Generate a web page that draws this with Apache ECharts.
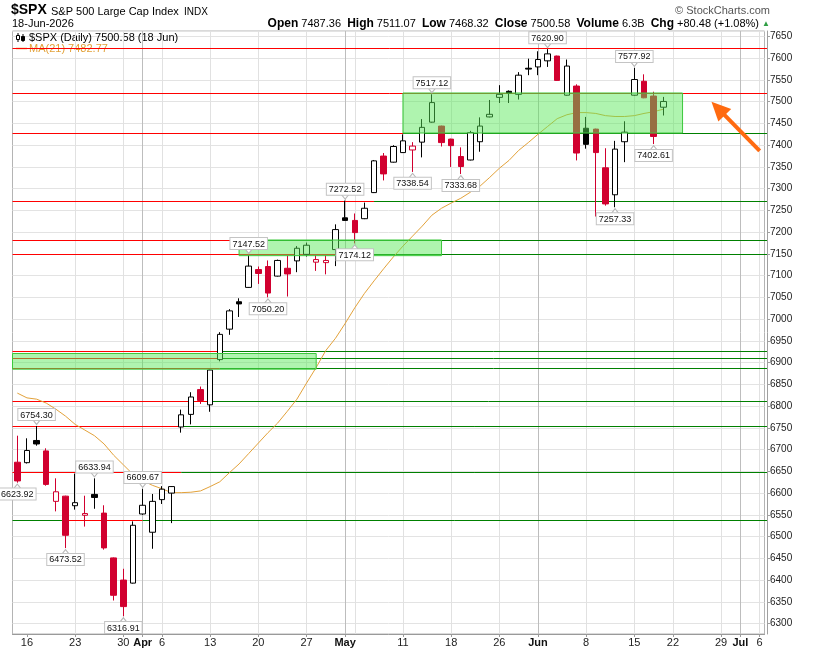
<!DOCTYPE html>
<html>
<head>
<meta charset="utf-8">
<script src="https://cdn.jsdelivr.net/npm/echarts@6.0.0/dist/echarts.min.js"></script>
<style>
html,body{margin:0;padding:0;background:#fff;}
#chart{width:813px;height:648px;}
</style>
</head>
<body>
<div id="chart"></div>
<script>
// ---------------- data ----------------
const dates = [
 '2026-03-13',
 '2026-03-16','2026-03-17','2026-03-18','2026-03-19','2026-03-20',
 '2026-03-23','2026-03-24','2026-03-25','2026-03-26','2026-03-27',
 '2026-03-30','2026-03-31','2026-04-01','2026-04-02',
 '2026-04-06','2026-04-07','2026-04-08','2026-04-09','2026-04-10',
 '2026-04-13','2026-04-14','2026-04-15','2026-04-16','2026-04-17',
 '2026-04-20','2026-04-21','2026-04-22','2026-04-23','2026-04-24',
 '2026-04-27','2026-04-28','2026-04-29','2026-04-30','2026-05-01',
 '2026-05-04','2026-05-05','2026-05-06','2026-05-07','2026-05-08',
 '2026-05-11','2026-05-12','2026-05-13','2026-05-14','2026-05-15',
 '2026-05-18','2026-05-19','2026-05-20','2026-05-21','2026-05-22',
 '2026-05-26','2026-05-27','2026-05-28','2026-05-29',
 '2026-06-01','2026-06-02','2026-06-03','2026-06-04','2026-06-05',
 '2026-06-08','2026-06-09','2026-06-10','2026-06-11','2026-06-12',
 '2026-06-15','2026-06-16','2026-06-17','2026-06-18',
 '2026-06-22','2026-06-23','2026-06-24','2026-06-25','2026-06-26',
 '2026-06-29','2026-06-30','2026-07-01','2026-07-02','2026-07-06'
];

const opens = [6671,6670,6721,6697,6581,6593,6571,6549,6597,6554,6451,6400,6393,6552,6510,6585,6600,6752,6781,6838,
 6803,6907,6977,7040,7073,7114,7121,7099,7117,7134,7149,7131,7130,7160,7233,7227,7231,7291,7375,7361,
 7383,7389,7407,7453,7444,7414,7374,7366,7408,7465,7510,7524,7517,7577,7580,7594,7605,7515,7536,7439,
 7437,7348,7286,7408,7515,7547,7513,7487.36];
const closes = [6628,6698,6713,6620,6603,6503,6578,6553,6590,6474,6365,6339,6526,6572,6581,6609,6615,6780,6821,6813,
 6883,6965,7019,7035,7122,7105,7060,7135,7104,7163,7170,7137,7135,7206,7227,7199,7255,7364,7334,7397,
 7410,7398,7441,7498,7406,7399,7351,7429,7444,7471,7517,7520,7561,7575,7597,7610,7549,7582,7382,7402,
 7383,7265,7391,7430,7551,7509,7420.10,7500.58];
const lows = [6623.92,6668,6709,6617,6558,6473.52,6562,6523,6564,6470,6353,6316.91,6392,6550,6472,6575,6531,6739,6758,6805,
 6787,6903,6964,7005,7072,7081,7050.20,7098,7052,7108,7144,7111,7103,7122,7226,7174.12,7230,7290,7319,7360,
 7382,7338.54,7372,7452,7397,7350,7333.68,7365,7385,7464,7497,7497,7505,7561,7561,7580,7548,7514,7365,7392,
 7236,7261,7257.33,7361,7514,7508,7402.61,7468.32];
const highs = [6732,6726,6754.30,6703,6634,6594,6645,6594,6633.94,6572,6452,6426,6535,6609.67,6598,6616,6616,6792,6832,6845,
 6884,6970,7023,7048,7147.52,7121,7135,7137,7147,7168,7176,7149,7147,7218,7272.52,7243,7268,7366,7382,7400,
 7425,7407,7460,7517.12,7445,7415,7395,7433,7464,7504,7538,7526,7568,7599,7616,7620.90,7606,7597,7540,7465,
 7438,7393,7410,7455,7577.92,7563,7523,7511.07];
const ma21 = [6830,6819,6816,6807,6793,6777,6758,6745,6732,6713,6687,6665,6643,6629,6618,6610,6601,6601,6602,6605,
 6615,6626,6647,6667,6691,6715,6739,6761,6788,6816,6853,6889,6928,6956,6990,7026,7059,7088,7116,7143,
 7168,7191,7214,7239,7255,7267,7278,7292,7306,7326,7347,7365,7388,7406,7425,7443,7461,7470,7475,7475,
 7473,7468,7466,7466,7468,7473,7477,7482.77];
const volumeText = '6.3B';

// x tick labels: [date, text, isMonth]
const xTicks = [
 ['2026-03-16','16',0],['2026-03-23','23',0],['2026-03-30','30',0],['2026-04-01','Apr',1],['2026-04-06','6',0],
 ['2026-04-13','13',0],['2026-04-20','20',0],['2026-04-27','27',0],['2026-05-01','May',1],['2026-05-11','11',0],
 ['2026-05-18','18',0],['2026-05-26','26',0],['2026-06-01','Jun',1],['2026-06-08','8',0],['2026-06-15','15',0],
 ['2026-06-22','22',0],['2026-06-29','29',0],['2026-07-01','Jul',1],['2026-07-06','6',0]
];
const gridDates = ['2026-03-23','2026-03-30','2026-04-01','2026-04-06','2026-04-13','2026-04-20','2026-04-27',
 '2026-05-01','2026-05-04','2026-05-11','2026-05-18','2026-05-26','2026-06-01','2026-06-08','2026-06-15',
 '2026-06-22','2026-06-29','2026-07-01','2026-07-06'];
const monthDates = ['2026-04-01','2026-05-01','2026-06-01','2026-07-01'];

// annotation labels: [date, value, side]
const annotations = [
 ['2026-03-13',6623.92,'below'],['2026-03-17',6754.30,'above'],['2026-03-20',6473.52,'below'],
 ['2026-03-25',6633.94,'above'],['2026-03-30',6316.91,'below'],['2026-04-01',6609.67,'above'],
 ['2026-04-17',7147.52,'above'],['2026-04-21',7050.20,'below'],['2026-05-01',7272.52,'above'],
 ['2026-05-04',7174.12,'below'],['2026-05-12',7338.54,'below'],['2026-05-14',7517.12,'above'],
 ['2026-05-19',7333.68,'below'],['2026-06-02',7620.90,'above'],['2026-06-11',7257.33,'below'],
 ['2026-06-15',7577.92,'above'],['2026-06-17',7402.61,'below']
];

// support / resistance levels and their phases: [kind, fromDate(null=left edge), toDate(null=right edge)]
const srLevels = [7623, 7520, 7428, 7271, 7182, 7150, 6927, 6909, 6886, 6811, 6754.30, 6648, 6538];
const srPhases = [
 [['R',null,null]],
 [['R',null,null]],
 [['R',null,'2026-05-11'],['S','2026-05-11',null]],
 [['R',null,'2026-05-06'],['S','2026-05-06',null]],
 [['R',null,'2026-04-16'],['S','2026-04-16',null]],
 [['R',null,'2026-04-30'],['S','2026-04-30',null]],
 [['R',null,'2026-04-14'],['S','2026-04-14',null]],
 [['R',null,'2026-04-14'],['S','2026-04-14',null]],
 [['R',null,'2026-04-14'],['S','2026-04-14',null]],
 [['R',null,'2026-04-13'],['S','2026-04-13',null]],
 [['R',null,'2026-04-08'],['S','2026-04-08',null]],
 [['R',null,'2026-04-08'],['S','2026-04-08',null]],
 [['S',null,'2026-03-20'],['R','2026-03-20','2026-04-01'],['S','2026-04-01',null]]
];

// shaded zones: [fromDate(null=left edge), toDate, low, high]
const zones = [
 ['2026-05-11','2026-06-23',7428,7520],
 ['2026-04-16','2026-05-15',7146,7182],
 [null,'2026-04-28',6885,6921]
];

// arrow annotation: [fromDate, fromValue, toDate, toValue]
const arrowPts = ['2026-07-06', 7387, '2026-06-26', 7500];

// ---------------- chart ----------------
const FONT = "'Liberation Sans', Arial, Helvetica, sans-serif";
const RED = '#d1002f', BLACK = '#000000';
const LINE_RED = '#ff0000', LINE_GREEN = '#008000';
const GRID_LEFT = 12.5, GRID_RIGHT = 48.5, GRID_TOP = 31, GRID_BOTTOM = 11;
const AXIS_X = 767;
const Y_MIN = 6276, Y_MAX = 7662.6;

const idx = d => dates.indexOf(d);
const LAST = dates.length - 1;
const tickMap = {};
xTicks.forEach(t => { tickMap[t[0]] = t; });

const candleData = opens.map((o, i) => {
  const c = closes[i];
  const prev = i > 0 ? closes[i - 1] : o;
  const stroke = c >= prev ? BLACK : RED;
  const fill = c >= o ? '#ffffff' : stroke;
  return { value: [o, c, lows[i], highs[i]],
    itemStyle: { color: fill, color0: fill, borderColor: stroke, borderColor0: stroke } };
});

const srData = [];
srLevels.forEach((lv, k) => {
  srPhases[k].forEach(([kind, from, to]) => {
    const ls = { color: kind === 'R' ? LINE_RED : LINE_GREEN, width: 1, type: 'solid', opacity: 1 };
    const a = from == null ? { coord: [0, lv], x: GRID_LEFT } : { coord: [idx(from), lv] };
    const b = to == null ? { coord: [LAST, lv], x: AXIS_X } : { coord: [idx(to), lv] };
    a.lineStyle = ls; b.lineStyle = ls;
    srData.push([a, b]);
  });
});
const lastClose = closes[closes.length - 1];
const lastMA = ma21[ma21.length - 1];
srData.push({ yAxis: lastMA, lineStyle: { opacity: 0 },
  label: { show: true, position: 'end', distance: 3, formatter: lastMA.toFixed(2), backgroundColor: '#fff',
    borderColor: '#e3a23a', borderWidth: 1, padding: [1, 2, 0, 2], fontSize: 10, color: '#444', fontFamily: FONT } });
srData.push({ yAxis: lastClose, lineStyle: { opacity: 0 },
  label: { show: true, position: 'end', distance: 1, formatter: lastClose.toFixed(2), backgroundColor: '#fff',
    borderColor: '#000', borderWidth: 1, padding: [1, 2, 0, 3], fontSize: 11, fontWeight: 'bold', color: '#000', fontFamily: FONT } });

const zoneData = zones.map(([f, t, lo, hi]) => [
  f == null ? { yAxis: lo } : { coord: [idx(f), lo] },
  { coord: [idx(t), hi] }
]);

const markPts = annotations.map(([d, v, side]) => {
  const above = side === 'above';
  return {
    coord: [idx(d), v],
    symbol: above ? 'path://M0,0L8,0L4,5Z' : 'path://M4,0L8,5L0,5Z',
    symbolSize: [8, 5],
    symbolOffset: [0, above ? -4 : 4],
    itemStyle: { color: '#fff', borderColor: '#b8b8b8', borderWidth: 1 },
    label: { show: true, position: above ? 'top' : 'bottom', distance: -1, formatter: v.toFixed(2),
      backgroundColor: '#fff', borderColor: '#c4c4c4', borderWidth: 1, padding: [1, 2, 0, 2],
      fontSize: 9, lineHeight: 10, color: '#111', fontFamily: FONT }
  };
});

const vGrid = gridDates.map(d => ({ xAxis: idx(d),
  lineStyle: { color: monthDates.includes(d) ? '#bdbdbd' : '#e1e1e1', width: 1, type: 'solid' } }));

const chart = echarts.init(document.getElementById('chart'));
chart.setOption({
  animation: false,
  backgroundColor: '#fff',
  textStyle: { fontFamily: FONT },
  grid: { left: GRID_LEFT, right: GRID_RIGHT, top: GRID_TOP, bottom: GRID_BOTTOM,
    show: true, borderColor: '#b4b4b4', borderWidth: 1, backgroundColor: 'transparent' },
  xAxis: {
    type: 'category', data: dates, boundaryGap: true,
    axisLine: { lineStyle: { color: '#9a9a9a' } },
    axisTick: { show: true, length: 3, alignWithLabel: true, interval: (i, v) => !!tickMap[v], lineStyle: { color: '#9a9a9a' } },
    axisLabel: {
      interval: (i, v) => !!tickMap[v], margin: 3, fontSize: 11, color: '#222',
      formatter: v => { const t = tickMap[v]; return t ? (t[2] ? '{m|' + t[1] + '}' : t[1]) : ''; },
      rich: { m: { fontWeight: 'bold', fontSize: 11, color: '#111' } }
    },
    splitLine: { show: false }
  },
  yAxis: {
    type: 'value', position: 'right', offset: 2.5, min: Y_MIN, max: Y_MAX, scale: true,
    splitNumber: 28, minInterval: 50, maxInterval: 50,
    axisLine: { show: true, lineStyle: { color: '#a0a0a0' } },
    axisTick: { show: true, length: 3, lineStyle: { color: '#a0a0a0' } },
    axisLabel: { fontSize: 10, color: '#222', margin: 3, showMinLabel: false, showMaxLabel: false,
      formatter: v => String(Math.round(v)) },
    splitLine: { show: true, lineStyle: { color: '#e3e3e3', width: 1 } }
  },
  series: [
    {
      name: 'MA(21)', type: 'line', data: ma21, symbol: 'none', z: 2,
      lineStyle: { color: '#e3a23a', width: 1 }, silent: true,
      markLine: { silent: true, symbol: ['none', 'none'], z: 0.5, label: { show: false }, data: vGrid }
    },
    {
      name: '$SPX', type: 'candlestick', data: candleData, barWidth: 6, z: 3,
      itemStyle: { borderWidth: 1 },
      markLine: { silent: true, symbol: ['none', 'none'], z: 1, label: { show: false },
        lineStyle: { width: 1, type: 'solid', color: LINE_RED }, data: srData },
      markArea: { silent: true, z: 4,
        itemStyle: { color: 'rgba(88,232,88,0.48)', borderColor: '#3cc83c', borderWidth: 1 }, data: zoneData },
      markPoint: { silent: true, z: 6, data: markPts }
    }
  ]
});

// ---------------- header / decorations ----------------
const lastOpen = opens[opens.length - 1], lastHigh = highs[highs.length - 1], lastLow = lows[lows.length - 1];
const chg = lastClose - closes[closes.length - 2];
const chgPct = chg / closes[closes.length - 2] * 100;
const hdr = '{b|Open} ' + lastOpen.toFixed(2) + '  {b|High} ' + lastHigh.toFixed(2) + '  {b|Low} ' + lastLow.toFixed(2) +
  '  {b|Close} ' + lastClose.toFixed(2) + '  {b|Volume} ' + volumeText + '  {b|Chg} ' + (chg >= 0 ? '+' : '') + chg.toFixed(2) +
  ' (' + (chg >= 0 ? '+' : '') + chgPct.toFixed(2) + '%) {g|▲}';

const p = (d, v) => chart.convertToPixel({ seriesIndex: 1 }, [idx(d), v]);
const S = p(arrowPts[0], arrowPts[1]), T = p(arrowPts[2], arrowPts[3]);
const dx = T[0] - S[0], dy = T[1] - S[1], len = Math.hypot(dx, dy);
const ux = dx / len, uy = dy / len, nx = -uy, ny = ux;
const HL = 19, HW = 9;
const base = [T[0] - ux * HL, T[1] - uy * HL];

chart.setOption({
  graphic: [
    { type: 'text', left: 11, top: 3, style: { text: '$SPX', font: 'bold 14px ' + FONT, fill: '#000' } },
    { type: 'text', left: 51, top: 6, style: { text: 'S&P 500 Large Cap Index', font: '11px ' + FONT, fill: '#000' } },
    { type: 'text', left: 184, top: 7, style: { text: 'INDX', font: '10px ' + FONT, fill: '#000' } },
    { type: 'text', right: 43, top: 5, style: { text: '\u00A9 StockCharts.com', font: '11px ' + FONT, fill: '#555' } },
    { type: 'text', left: 12, top: 18, style: { text: '18-Jun-2026', font: '11px ' + FONT, fill: '#000' } },
    { type: 'text', right: 43, top: 18, style: { text: hdr, font: '11px ' + FONT, fill: '#000',
        rich: { b: { fontWeight: 'bold', fontSize: 12, fontFamily: FONT, fill: '#000' }, g: { fill: '#2f9e44', fontSize: 8, fontFamily: FONT } } } },
    // legend candle icon
    { type: 'line', shape: { x1: 18, y1: 33, x2: 18, y2: 42 }, style: { stroke: '#000', lineWidth: 1 } },
    { type: 'rect', shape: { x: 16.5, y: 35.5, width: 3, height: 4 }, style: { fill: '#fff', stroke: '#000', lineWidth: 1 } },
    { type: 'line', shape: { x1: 23, y1: 34, x2: 23, y2: 42 }, style: { stroke: '#000', lineWidth: 1 } },
    { type: 'rect', shape: { x: 21.5, y: 36.5, width: 3, height: 4 }, style: { fill: '#000', stroke: '#000', lineWidth: 1 } },
    { type: 'text', left: 29, top: 32, style: { text: '$SPX (Daily) ' + lastClose.toFixed(2) + ' (18 Jun)', font: '11px ' + FONT, fill: '#000' } },
    { type: 'line', shape: { x1: 16, y1: 48.5, x2: 27, y2: 48.5 }, style: { stroke: '#e3a23a', lineWidth: 1.5 } },
    { type: 'text', left: 29, top: 43, style: { text: 'MA(21) ' + lastMA.toFixed(2), font: '11px ' + FONT, fill: '#e3a23a' } },
    // orange arrow
    { type: 'line', z: 100, shape: { x1: S[0], y1: S[1], x2: base[0] + ux * 4, y2: base[1] + uy * 4 },
      style: { stroke: '#ff6a10', lineWidth: 4 } },
    { type: 'polygon', z: 100, shape: { points: [[T[0], T[1]], [base[0] + nx * HW, base[1] + ny * HW], [base[0] - nx * HW, base[1] - ny * HW]] },
      style: { fill: '#ff6a10' } }
  ]
});
</script>
</body>
</html>
